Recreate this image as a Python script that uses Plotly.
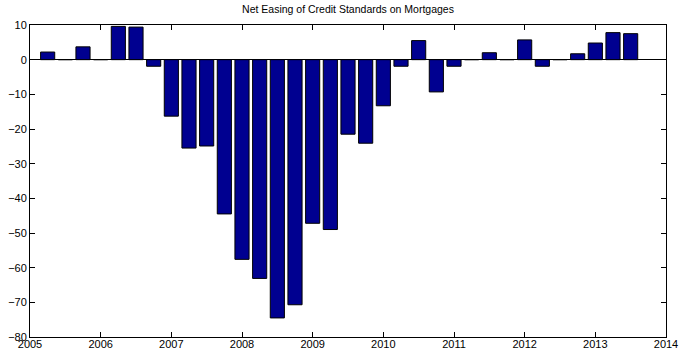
import plotly.graph_objects as go

# Quarterly net easing of credit standards on mortgages (percent of respondents)
quarters = [2005.25 + 0.25 * i for i in range(34)]
net_easing = [2.2, 0.0, 3.7, 0.0, 9.6, 9.4, -1.9, -16.3, -25.5, -24.9,
              -44.5, -57.6, -63.1, -74.5, -70.7, -47.2, -49.0, -21.5, -24.1, -13.3,
              -1.9, 5.5, -9.3, -1.9, 0.0, 2.0, 0.0, 5.7, -1.9, 0.0,
              1.7, 4.8, 7.8, 7.5]

x_ticks = list(range(2005, 2015))
y_ticks = list(range(-80, 11, 10))

font = dict(family="Liberation Sans, Arial, Helvetica, sans-serif", size=11, color="black")

fig = go.Figure(
    go.Bar(
        x=quarters,
        y=net_easing,
        width=0.2,
        marker=dict(color="#000090", line=dict(color="black", width=1)),
    )
)

axis_common = dict(
    showgrid=False,
    showline=True,
    linecolor="black",
    linewidth=1,
    mirror="ticks",
    ticks="inside",
    ticklen=5,
    tickcolor="black",
    tickwidth=1,
    tickfont=font,
    automargin=False,
)

fig.update_layout(
    width=683,
    height=351,
    margin=dict(l=30, r=17, t=25, b=14),
    paper_bgcolor="white",
    plot_bgcolor="white",
    showlegend=False,
    font=font,
    title=dict(
        text="Net Easing of Credit Standards on Mortgages",
        font=dict(family=font["family"], size=10.5, color="black"),
        x=0.5,
        xanchor="center",
        xref="paper",
        y=1 - 9 / 351,
        yref="container",
        yanchor="middle",
    ),
    xaxis=dict(range=[2005, 2014], tickvals=x_ticks, ticktext=[str(v) for v in x_ticks],
               zeroline=False, ticklabelstandoff=-3, **axis_common),
    yaxis=dict(range=[-80, 10], tickvals=y_ticks, ticktext=[str(v).replace("-", "\u2212") for v in y_ticks],
               zeroline=True, zerolinecolor="black", zerolinewidth=1, **axis_common),
)

fig.write_html("out.html")
